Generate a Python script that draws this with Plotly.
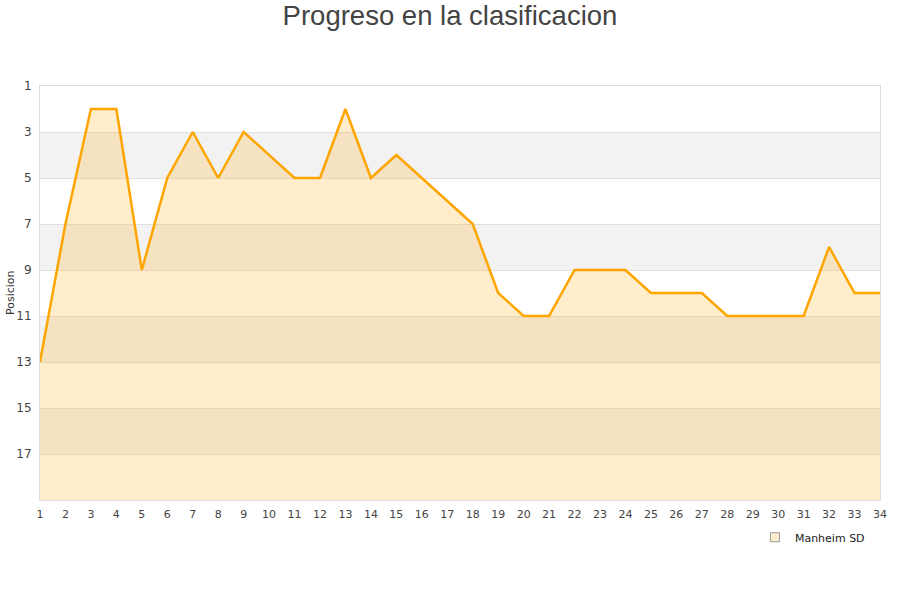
import plotly.graph_objects as go

jornadas = list(range(1, 35))
posiciones = [13, 7, 2, 2, 9, 5, 3, 5, 3, 4, 5, 5, 2, 5, 4, 5, 6, 7, 10, 11, 11,
              9, 9, 9, 10, 10, 10, 11, 11, 11, 11, 8, 10, 10]
equipo = "Manheim SD"
fondo = [19] * len(jornadas)
y_ticks = [1, 3, 5, 7, 9, 11, 13, 15, 17]
bandas_grises = [(3, 5), (7, 9), (11, 13), (15, 17)]

fig = go.Figure()
fig.add_trace(go.Scatter(x=jornadas, y=fondo, mode="lines", line=dict(width=0),
                         showlegend=False, hoverinfo="skip"))
fig.add_trace(go.Scatter(x=jornadas, y=posiciones, mode="lines", name=equipo,
                         line=dict(color="#FFA500", width=2.5), showlegend=False,
                         fill="tonexty", fillcolor="rgba(255,165,0,0.2)"))
# legend entry (square icon)
fig.add_trace(go.Scatter(x=[None], y=[None], mode="markers", name=equipo,
                         marker=dict(symbol="square", size=9, color="#FFEDCC",
                                     line=dict(color="#999999", width=1))))

shapes = []
for a, b in bandas_grises:
    shapes.append(dict(type="rect", xref="paper", yref="y", x0=0, x1=1, y0=a, y1=b,
                       fillcolor="#F2F2F2", line=dict(width=0), layer="below"))

fig.update_layout(
    width=900, height=600,
    paper_bgcolor="white", plot_bgcolor="white",
    margin=dict(l=40, r=20, t=86, b=100),
    title=dict(text="Progreso en la clasificacion", x=0.5, xanchor="center",
               y=0.975, yanchor="middle",
               font=dict(family="Liberation Sans, Arial", size=27.5, color="#444444")),
    shapes=shapes,
    annotations=[dict(text="Posicion", xref="paper", yref="paper", x=-0.0357, y=0.5,
                      xanchor="center", yanchor="middle", textangle=-90, showarrow=False,
                      font=dict(family="DejaVu Sans", size=11, color="#333333"))],
    showlegend=True,
    legend=dict(orientation="h", x=0.988, xanchor="right", y=-0.09, yanchor="middle",
                font=dict(family="DejaVu Sans", size=11, color="#222222"),
                bgcolor="rgba(0,0,0,0)", itemwidth=30),
    font=dict(family="DejaVu Sans", size=11, color="#444444"),
)
fig.update_xaxes(range=[1, 34], tickmode="array", tickvals=jornadas, automargin=False,
                 showgrid=False, zeroline=False, showline=True, linecolor="#DDDDDD",
                 mirror=True, linewidth=1, ticks="", ticklabelstandoff=4,
                 tickfont=dict(size=11, color="#444444"))
fig.update_yaxes(range=[19, 1], tickmode="array", tickvals=y_ticks, automargin=False,
                 showgrid=True, gridcolor="#E0E0E0", zeroline=False, showline=True,
                 linecolor="#DDDDDD", mirror=True, linewidth=1, ticks="", ticklabelstandoff=5,
                 tickfont=dict(size=12, color="#444444"))

fig.write_html("out.html", config={"displayModeBar": False},
               post_script="document.body.style.margin='0px';")
